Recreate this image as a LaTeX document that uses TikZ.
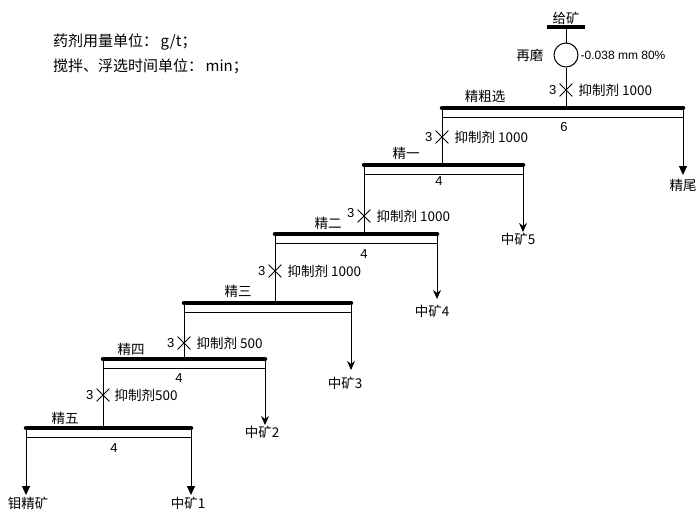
\documentclass[tikz,border=0pt]{standalone}
\usepackage{fontspec}
\setmainfont{Liberation Sans}
\newfontfamily\cjk{Noto Sans CJK SC}
\usetikzlibrary{arrows.meta, shapes.misc, positioning}

\tikzset{
    bar/.style={line width=4.5pt, line cap=round},
    pipe/.style={line width=1pt},
    note/.style={font=\cjk\fontsize{15}{15}\selectfont, inner sep=0pt},
    lbl/.style={font=\cjk\fontsize{13.5}{13.5}\selectfont, inner sep=1pt},
    num/.style={font=\fontsize{13}{13}\selectfont, inner sep=1pt},
    valve/.style={cross out, draw, line width=0.8pt, minimum size=12pt, inner sep=0pt},
    midtip/.style={-{Stealth[length=9pt, width=8pt, inset=3pt]}},
    endtip/.style={-{Triangle[length=9pt, width=8pt]}},
}

\begin{document}
\begin{tikzpicture}[x=1pt, y=-1pt]
    \useasboundingbox (0,0) rectangle (700,517);
    % Units of the flowsheet
    \node[note, anchor=west] (dose) at (53,42) {药剂用量单位：\,g/t；};
    \node[note, anchor=west] (time) at (53,66) {搅拌、浮选时间单位：\,min；};
    % Feed and regrind mill
    \coordinate (feedL) at (547,27);
    \coordinate (feedR) at (585,27);
    \coordinate (feedM) at (566,27);
    \draw[bar, line cap=butt] (feedL) -- (feedR);
    \node[lbl, above=1pt of feedM] (feed) {给矿};
    \node[circle, draw, pipe, minimum size=24pt, inner sep=0pt] (mill) at (566,55) {};
    \node[lbl, left=9pt of mill] (millname) {再磨};
    \node[num, right=1pt of mill, font=\fontsize{12}{12}\selectfont] (grind) {-0.038 mm 80\%};
    \draw[pipe] (feedM) -- (mill);
    %
    % Rougher cleaning
    %
    \coordinate (roL) at (442,108);
    \coordinate (roR) at (683,108);
    \coordinate (roIn) at (566,108);
    \draw[pipe] (mill) -- (roIn);
    \draw[bar] (roL) -- (roR);
    \draw[pipe] ([yshift=-9pt]roL) -- ([yshift=-9pt]roR);
    \node[lbl] (roName) at (485,96) {精粗选};
    \node[num] (roTime) at (564,127) {6};
    \node[valve] (v0) at (566,90) {};
    \node[num, left=2pt of v0] (v0t) {3};
    \node[lbl, right=5pt of v0] (v0d) {抑制剂 1000};
    \coordinate (tails) at (683,175);
    \draw[pipe, endtip] (roR) -- (tails);
    \node[lbl, below=3pt of tails] (tailsName) {精尾};
    %
    % Cleaner 1
    %
    \coordinate (c1L) at (364,165);
    \coordinate (c1R) at (523,165);
    \coordinate (c1In) at (442,165);
    \draw[pipe] (roL) -- (c1In);
    \draw[bar] (c1L) -- (c1R);
    \draw[pipe] ([yshift=-9pt]c1L) -- ([yshift=-9pt]c1R);
    \node[lbl] (c1Name) at (406,153) {精一};
    \node[num] (c1Time) at (439,181) {4};
    \node[valve] (v1) at (442,137) {};
    \node[num, left=2pt of v1] (v1t) {3};
    \node[lbl, right=5pt of v1] (v1d) {抑制剂 1000};
    \coordinate (m5) at (523,232);
    \draw[pipe, midtip] (c1R) -- (m5);
    \node[lbl, below=0pt of m5, xshift=-5pt] (m5Name) {中矿5};
    %
    % Cleaner 2
    %
    \coordinate (c2L) at (275,234);
    \coordinate (c2R) at (437,234);
    \coordinate (c2In) at (364,234);
    \draw[pipe] (c1L) -- (c2In);
    \draw[bar] (c2L) -- (c2R);
    \draw[pipe] ([yshift=-9pt]c2L) -- ([yshift=-9pt]c2R);
    \node[lbl] (c2Name) at (328,223) {精二};
    \node[num] (c2Time) at (364,254) {4};
    \node[valve] (v2) at (364,216) {};
    \node[num, left=2pt of v2, yshift=3pt] (v2t) {3};
    \node[lbl, right=5pt of v2] (v2d) {抑制剂 1000};
    \coordinate (m4) at (437,299);
    \draw[pipe, midtip] (c2R) -- (m4);
    \node[lbl, below=5pt of m4, xshift=-5pt] (m4Name) {中矿4};
    %
    % Cleaner 3
    %
    \coordinate (c3L) at (184,303);
    \coordinate (c3R) at (351,303);
    \coordinate (c3In) at (275,303);
    \draw[pipe] (c2L) -- (c3In);
    \draw[bar] (c3L) -- (c3R);
    \draw[pipe] ([yshift=-9pt]c3L) -- ([yshift=-9pt]c3R);
    \node[lbl] (c3Name) at (238,291) {精三};
    \node[valve] (v3) at (275,271) {};
    \node[num, left=2pt of v3] (v3t) {3};
    \node[lbl, right=5pt of v3] (v3d) {抑制剂 1000};
    \coordinate (m3) at (351,370);
    \draw[pipe, midtip] (c3R) -- (m3);
    \node[lbl, below=6pt of m3, xshift=-6pt] (m3Name) {中矿3};
    %
    % Cleaner 4
    %
    \coordinate (c4L) at (103,359);
    \coordinate (c4R) at (265,359);
    \coordinate (c4In) at (184,359);
    \draw[pipe] (c3L) -- (c4In);
    \draw[bar] (c4L) -- (c4R);
    \draw[pipe] ([yshift=-9pt]c4L) -- ([yshift=-9pt]c4R);
    \node[lbl] (c4Name) at (131,349) {精四};
    \node[num] (c4Time) at (179,378) {4};
    \node[valve] (v4) at (184,343) {};
    \node[num, left=2pt of v4] (v4t) {3};
    \node[lbl, right=5pt of v4] (v4d) {抑制剂 500};
    \coordinate (m2) at (265,425);
    \draw[pipe, midtip] (c4R) -- (m2);
    \node[lbl, below=0pt of m2, xshift=-3pt] (m2Name) {中矿2};
    %
    % Cleaner 5
    %
    \coordinate (c5L) at (26,428);
    \coordinate (c5R) at (191,428);
    \coordinate (c5In) at (103,428);
    \draw[pipe] (c4L) -- (c5In);
    \draw[bar] (c5L) -- (c5R);
    \draw[pipe] ([yshift=-9pt]c5L) -- ([yshift=-9pt]c5R);
    \node[lbl] (c5Name) at (65,418) {精五};
    \node[num] (c5Time) at (114,448) {4};
    \node[valve] (v5) at (103,395) {};
    \node[num, left=2pt of v5] (v5t) {3};
    \node[lbl, right=4pt of v5] (v5d) {抑制剂500};
    \coordinate (conc) at (26,495);
    \coordinate (m1) at (191,495);
    \draw[pipe, endtip] (c5L) -- (conc);
    \draw[pipe, endtip] (c5R) -- (m1);
    \node[lbl, below=1pt of conc, xshift=2pt] (concName) {钼精矿};
    \node[lbl, below=1pt of m1, xshift=-3pt] (m1Name) {中矿1};
\end{tikzpicture}
\end{document}
